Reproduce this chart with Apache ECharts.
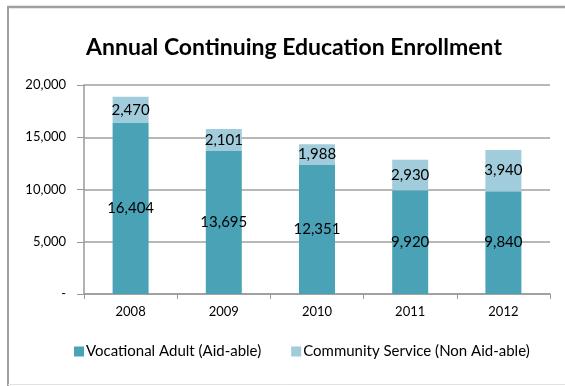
<!DOCTYPE html>
<html><head><meta charset="utf-8">
<script src="https://cdn.jsdelivr.net/npm/echarts@6/dist/echarts.min.js"></script>
<style>html,body{margin:0;padding:0;background:#fff}#c{width:565px;height:386px}</style>
</head><body><div id="c"></div>
<script>
const categories = ['2008', '2009', '2010', '2011', '2012'];
const vocational = [16404, 13695, 12351, 9920, 9840];
const community = [2470, 2101, 1988, 2930, 3940];
const yTicks = [0, 5000, 10000, 15000, 20000];

const fmt = v => v === 0 ? '-' : v.toLocaleString('en-US');
const font = 'Lato, "Open Sans", sans-serif';
const chart = echarts.init(document.getElementById('c'), null, {renderer: 'canvas'});
chart.setOption({
  animation: false,
  title: {
    text: 'Annual Continuing Education Enrollment',
    left: 289, textAlign: 'center', top: 31,
    textStyle: {fontFamily: font, fontWeight: 'bold', fontSize: 23, color: '#000'}
  },
  graphic: [
    {type: 'line', shape: {x1: 7, y1: 7, x2: 565, y2: 7}, style: {stroke: '#a0a0a0', lineWidth: 2.5}, z: 100},
    {type: 'line', shape: {x1: 8, y1: 7, x2: 8, y2: 386}, style: {stroke: '#a0a0a0', lineWidth: 2}, z: 100},
    {type: 'line', shape: {x1: 8, y1: 384.5, x2: 565, y2: 384.5}, style: {stroke: '#e2e2e2', lineWidth: 1}, z: 100}
  ],
  legend: {
    bottom: 22, left: 69, itemWidth: 10, itemHeight: 10, itemGap: 30,
    icon: 'rect',
    textStyle: {fontFamily: font, fontSize: 15, color: '#000', padding: [0, 0, 0, -3]},
    data: ['Vocational Adult (Aid-able)', 'Community Service (Non Aid-able)']
  },
  grid: {left: 84, right: 15, top: 85, bottom: 92},
  xAxis: {
    type: 'category', data: categories,
    axisLine: {lineStyle: {color: '#999', width: 1.5}},
    axisTick: {show: true, length: 5, lineStyle: {color: '#999'}},
    axisLabel: {fontFamily: font, fontSize: 13, color: '#000', margin: 11}
  },
  yAxis: {
    type: 'value', min: yTicks[0], max: yTicks[yTicks.length - 1], interval: yTicks[1] - yTicks[0],
    axisLine: {show: true, lineStyle: {color: '#999', width: 1.5}},
    axisTick: {show: true, length: 7, lineStyle: {color: '#999'}},
    splitLine: {lineStyle: {color: '#a0a0a0', width: 1.5}},
    axisLabel: {fontFamily: font, fontSize: 13, color: '#000', margin: 18, formatter: fmt}
  },
  series: [{
    name: 'Vocational Adult (Aid-able)', type: 'bar', stack: 's', data: vocational,
    barWidth: 36,
    itemStyle: {color: '#4aa2b7'},
    label: {show: true, position: 'inside', fontFamily: font, fontSize: 15, color: '#000', formatter: p => fmt(p.value)}
  }, {
    name: 'Community Service (Non Aid-able)', type: 'bar', stack: 's', data: community,
    barWidth: 36,
    itemStyle: {color: '#a1ccdb'},
    label: {show: true, position: 'inside', fontFamily: font, fontSize: 15, color: '#000', formatter: p => fmt(p.value)}
  }]
});
</script></body></html>
